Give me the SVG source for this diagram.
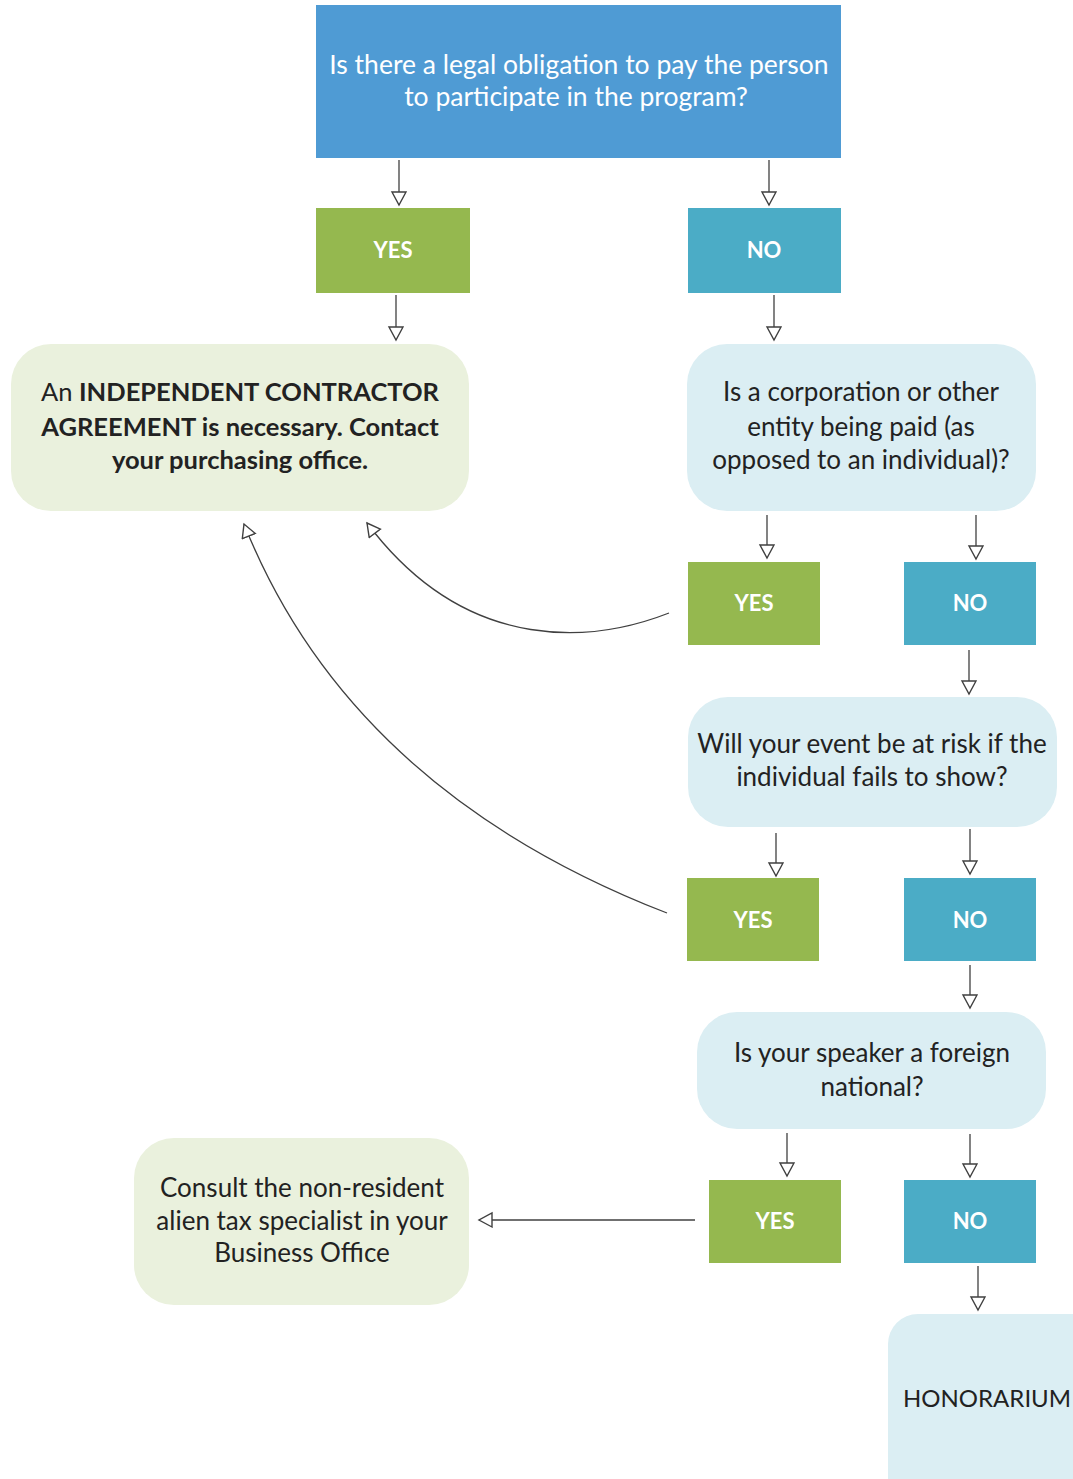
<svg xmlns="http://www.w3.org/2000/svg" width="1073" height="1479" viewBox="0 0 1073 1479">
<defs>
<marker id="ah" markerUnits="userSpaceOnUse" markerWidth="18" markerHeight="18" refX="14" refY="8" orient="auto">
<path d="M1,1 L14,8 L1,15 Z" fill="#fff" stroke="#404040" stroke-width="1.4"/>
</marker>
</defs>
<style>
text{font-family:Lato,"Open Sans","Liberation Sans",sans-serif;text-anchor:middle}
.q{font-size:26px;fill:#222}
.b{font-size:25.5px;fill:#222}
.w{font-size:26.5px;fill:#fff}
.lab{font-size:22px;font-weight:bold;fill:#fff}
.yes{fill:#95B84F}
.no{fill:#4BACC6}
.lg{fill:#EAF1DD}
.lb{fill:#DBEEF3}
.c{fill:none;stroke:#404040;stroke-width:1.3;marker-end:url(#ah)}
</style>
<rect width="1073" height="1479" fill="#fff"/>
<g id="connectors">
<line class="c" x1="399" y1="160" x2="399" y2="205"/>
<line class="c" x1="769" y1="160" x2="769" y2="205"/>
<line class="c" x1="396" y1="295" x2="396" y2="340"/>
<line class="c" x1="774" y1="295" x2="774" y2="340"/>
<line class="c" x1="767" y1="515" x2="767" y2="558"/>
<line class="c" x1="976" y1="515" x2="976" y2="559"/>
<line class="c" x1="969" y1="650" x2="969" y2="694"/>
<line class="c" x1="776" y1="833" x2="776" y2="876"/>
<line class="c" x1="970" y1="829" x2="970" y2="874"/>
<line class="c" x1="970" y1="965" x2="970" y2="1008"/>
<line class="c" x1="787" y1="1133" x2="787" y2="1176"/>
<line class="c" x1="970" y1="1134" x2="970" y2="1177"/>
<line class="c" x1="978" y1="1266" x2="978" y2="1310"/>
<line class="c" x1="695" y1="1220" x2="479" y2="1220"/>
<path class="c" d="M669,613 C600,640 470,660 367,523"/>
<path class="c" d="M667,913 Q350,790 244,524"/>
</g>
<g id="q1">
<rect x="316" y="5" width="525" height="153" fill="#4F9BD4"/>
<text class="w" x="579" y="74">Is there a legal obligation to pay the person</text>
<text class="w" x="576" y="106">to participate in the program?</text>
</g>
<g id="yes1"><rect class="yes" x="316" y="208" width="154" height="85"/><text class="lab" x="393" y="258">YES</text></g>
<g id="no1"><rect class="no" x="688" y="208" width="153" height="85"/><text class="lab" x="764" y="258">NO</text></g>
<g id="ica">
<rect class="lg" x="11" y="344" width="458" height="167" rx="40"/>
<text class="b" x="240" y="401">An <tspan font-weight="bold">INDEPENDENT CONTRACTOR</tspan></text>
<text class="b" x="240" y="436" font-weight="bold">AGREEMENT is necessary. Contact</text>
<text class="b" x="240" y="469" font-weight="bold">your purchasing office.</text>
</g>
<g id="q2">
<rect class="lb" x="687" y="344" width="349" height="167" rx="40"/>
<text class="q" x="861" y="401">Is a corporation or other</text>
<text class="q" x="861" y="436">entity being paid (as</text>
<text class="q" x="861" y="469">opposed to an individual)?</text>
</g>
<g id="yes2"><rect class="yes" x="688" y="562" width="132" height="83"/><text class="lab" x="754" y="611">YES</text></g>
<g id="no2"><rect class="no" x="904" y="562" width="132" height="83"/><text class="lab" x="970" y="611">NO</text></g>
<g id="q3">
<rect class="lb" x="688" y="697" width="369" height="130" rx="40"/>
<text class="q" x="872" y="753">Will your event be at risk if the</text>
<text class="q" x="872" y="786">individual fails to show?</text>
</g>
<g id="yes3"><rect class="yes" x="687" y="878" width="132" height="83"/><text class="lab" x="753" y="928">YES</text></g>
<g id="no3"><rect class="no" x="904" y="878" width="132" height="83"/><text class="lab" x="970" y="928">NO</text></g>
<g id="q4">
<rect class="lb" x="697" y="1012" width="349" height="117" rx="40"/>
<text class="q" x="872" y="1062">Is your speaker a foreign</text>
<text class="q" x="872" y="1096">national?</text>
</g>
<g id="yes4"><rect class="yes" x="709" y="1180" width="132" height="83"/><text class="lab" x="775" y="1229">YES</text></g>
<g id="no4"><rect class="no" x="904" y="1180" width="132" height="83"/><text class="lab" x="970" y="1229">NO</text></g>
<g id="consult">
<rect class="lg" x="134" y="1138" width="335" height="167" rx="40"/>
<text class="q" x="302" y="1197">Consult the non-resident</text>
<text class="q" x="302" y="1230">alien tax specialist in your</text>
<text class="q" x="302" y="1262">Business Office</text>
</g>
<g id="honorarium">
<rect class="lb" x="888" y="1314" width="225" height="200" rx="30"/>
<text x="903" y="1407" style="text-anchor:start;font-size:24px;fill:#222">HONORARIUM</text>
</g>
</svg>
